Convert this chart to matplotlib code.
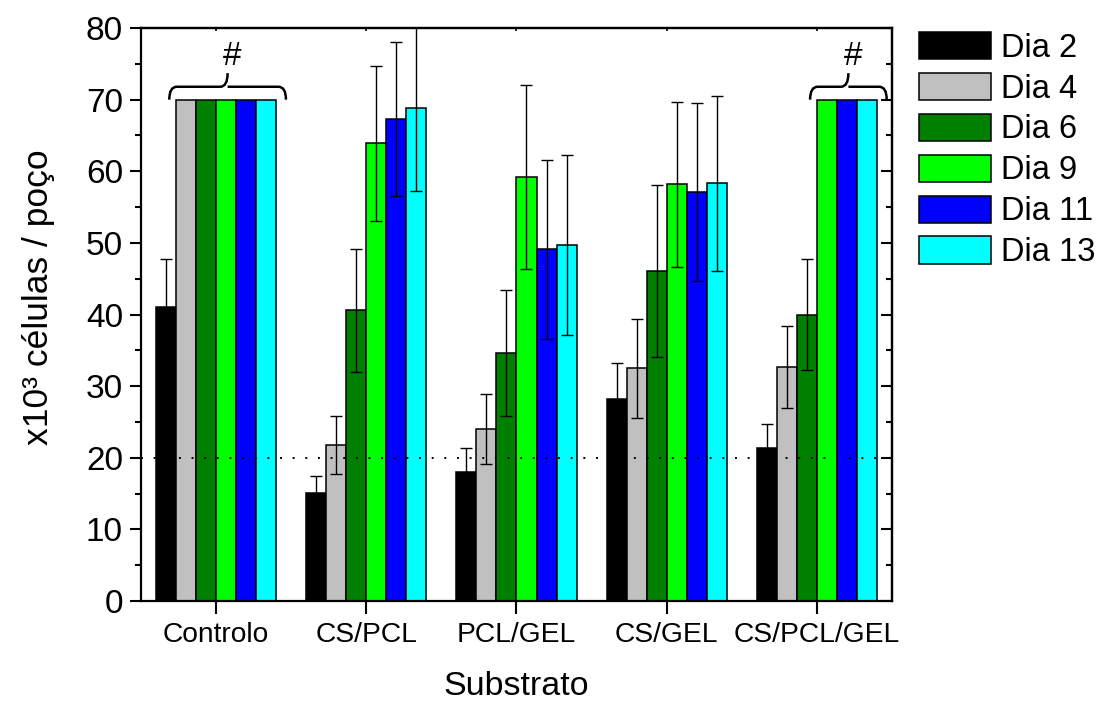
import numpy as np
import matplotlib
matplotlib.use("Agg")
import matplotlib.pyplot as plt
from matplotlib.path import Path
from matplotlib.patches import PathPatch, Patch
from matplotlib.ticker import MultipleLocator

plt.rcParams['font.family'] = ['Liberation Sans', 'DejaVu Sans']

# ---- data -------------------------------------------------------------
substrates = ["Controlo", "CS/PCL", "PCL/GEL", "CS/GEL", "CS/PCL/GEL"]
days = ["Dia 2", "Dia 4", "Dia 6", "Dia 9", "Dia 11", "Dia 13"]
colors = ["#000000", "#C0C0C0", "#008000", "#00FF00", "#0000FF", "#00FFFF"]

# x10^3 cells per well, one list per day (order follows substrates)
dia2 = [41.0, 15.1, 18.0, 28.2, 21.4]
dia4 = [70.0, 21.8, 24.0, 32.5, 32.7]
dia6 = [70.0, 40.6, 34.6, 46.1, 40.0]
dia9 = [70.0, 63.9, 59.2, 58.2, 70.0]
dia11 = [70.0, 67.3, 49.1, 57.1, 70.0]
dia13 = [70.0, 68.8, 49.7, 58.3, 70.0]

# standard deviations (0 = saturated wells, no error bar)
err2 = [6.8, 2.4, 3.3, 5.0, 3.3]
err4 = [0.0, 4.0, 4.9, 6.9, 5.7]
err6 = [0.0, 8.6, 8.8, 12.0, 7.7]
err9 = [0.0, 10.8, 12.8, 11.5, 0.0]
err11 = [0.0, 10.8, 12.5, 12.4, 0.0]
err13 = [0.0, 11.6, 12.6, 12.2, 0.0]

reference_level = 20
# groups of saturated wells marked with "#": (substrate index, first day, last day)
saturated = [(0, 1, 5), (4, 3, 5)]

values = [dia2, dia4, dia6, dia9, dia11, dia13]
errors = [err2, err4, err6, err9, err11, err13]

# ---- figure -------------------------------------------------------------
fig = plt.figure(figsize=(10.99, 7.06), dpi=100)
ax = fig.add_axes([0.1283, 0.1487, 0.6833, 0.8116])

x = np.arange(1, len(substrates) + 1)
n = len(days)
w = 0.8 / n

for i, (vals, errs, col, lab) in enumerate(zip(values, errors, colors, days)):
    pos = x + (i - (n - 1) / 2) * w
    ax.bar(pos, vals, width=w, color=col, edgecolor="black", linewidth=1.1,
           label=lab, zorder=2)
    e = np.array(errs, dtype=float)
    mask = e > 0
    ax.errorbar(pos[mask], np.array(vals)[mask], yerr=e[mask], fmt="none",
                ecolor="black", elinewidth=1.0, capsize=4, capthick=1.0,
                zorder=3)

ax.axhline(reference_level, color="black", linewidth=1.4,
           linestyle=(0, (1, 5.5)), zorder=4)


def brace(ax, x0, x1, y0, y1, y2, r):
    """Horizontal curly brace from x0 to x1, ends at y0, body at y1, tip at y2."""
    xc = (x0 + x1) / 2
    verts = [
        (x0, y0), (x0, y1), (x0 + r, y1),
        (xc - r, y1),
        (xc, y1), (xc, y2),
        (xc, y1), (xc + r, y1),
        (x1 - r, y1),
        (x1, y1), (x1, y0),
    ]
    codes = [Path.MOVETO, Path.CURVE3, Path.CURVE3,
             Path.LINETO,
             Path.CURVE3, Path.CURVE3,
             Path.MOVETO, Path.CURVE3,
             Path.LINETO,
             Path.CURVE3, Path.CURVE3]
    ax.add_patch(PathPatch(Path(verts, codes), facecolor="none",
                           edgecolor="black", linewidth=1.8, zorder=5,
                           clip_on=False))
    return xc


for gi, d0, d1 in saturated:
    left = x[gi] + (d0 - (n - 1) / 2) * w - w / 2 - 0.045
    right = x[gi] + (d1 - (n - 1) / 2) * w + w / 2 + 0.065
    top = max(values[d][gi] for d in range(d0, d1 + 1))
    xc = brace(ax, left, right, top, top + 1.8, top + 3.7, 0.05)
    ax.text(xc + 0.03, top + 6.0, "#", ha="center", va="center", fontsize=24)

# ---- axes styling --------------------------------------------------------
ax.set_xlim(0.5, 5.5)
ax.set_ylim(0, 80)
ax.set_xticks(x)
ax.set_xticklabels(substrates, fontsize=20.3)
ax.yaxis.set_major_locator(MultipleLocator(10))
ax.yaxis.set_minor_locator(MultipleLocator(5))
ax.tick_params(axis="y", which="major", direction="out", length=8, width=1.5,
               labelsize=24, pad=5)
ax.tick_params(axis="y", which="minor", direction="out", length=4, width=1.5)
ax.tick_params(axis="x", which="major", direction="out", length=9, width=1.5,
               pad=6)

for s in ax.spines.values():
    s.set_linewidth(1.6)

right_ax = ax.secondary_yaxis("right")
right_ax.yaxis.set_major_locator(MultipleLocator(10))
right_ax.yaxis.set_minor_locator(MultipleLocator(5))
right_ax.tick_params(which="major", direction="in", length=8, width=1.5,
                     labelright=False)
right_ax.tick_params(which="minor", direction="in", length=4, width=1.5)
right_ax.spines["right"].set_linewidth(1.6)

top_ax = ax.secondary_xaxis("top")
top_ax.set_xticks(x)
top_ax.tick_params(direction="in", length=2, width=1.2, labeltop=False)
top_ax.spines["top"].set_linewidth(1.6)

ax.set_ylabel("x10³ células / poço", fontsize=25.5, va="center")
ax.yaxis.set_label_coords(-0.137, 0.53)
ax.set_xlabel("Substrato", fontsize=24.5, va="top")
ax.xaxis.set_label_coords(0.5, -0.123)

handles = [Patch(facecolor=c, edgecolor="black", linewidth=1.1) for c in colors]
ax.legend(handles, days, loc="upper left", bbox_to_anchor=(0.8362, 0.955),
          bbox_transform=fig.transFigure, frameon=False, fontsize=23.5,
          handlelength=2.2, handleheight=0.9, handletextpad=0.3,
          labelspacing=0.28, borderpad=0, borderaxespad=0)

fig.savefig("out.png", dpi=100)
